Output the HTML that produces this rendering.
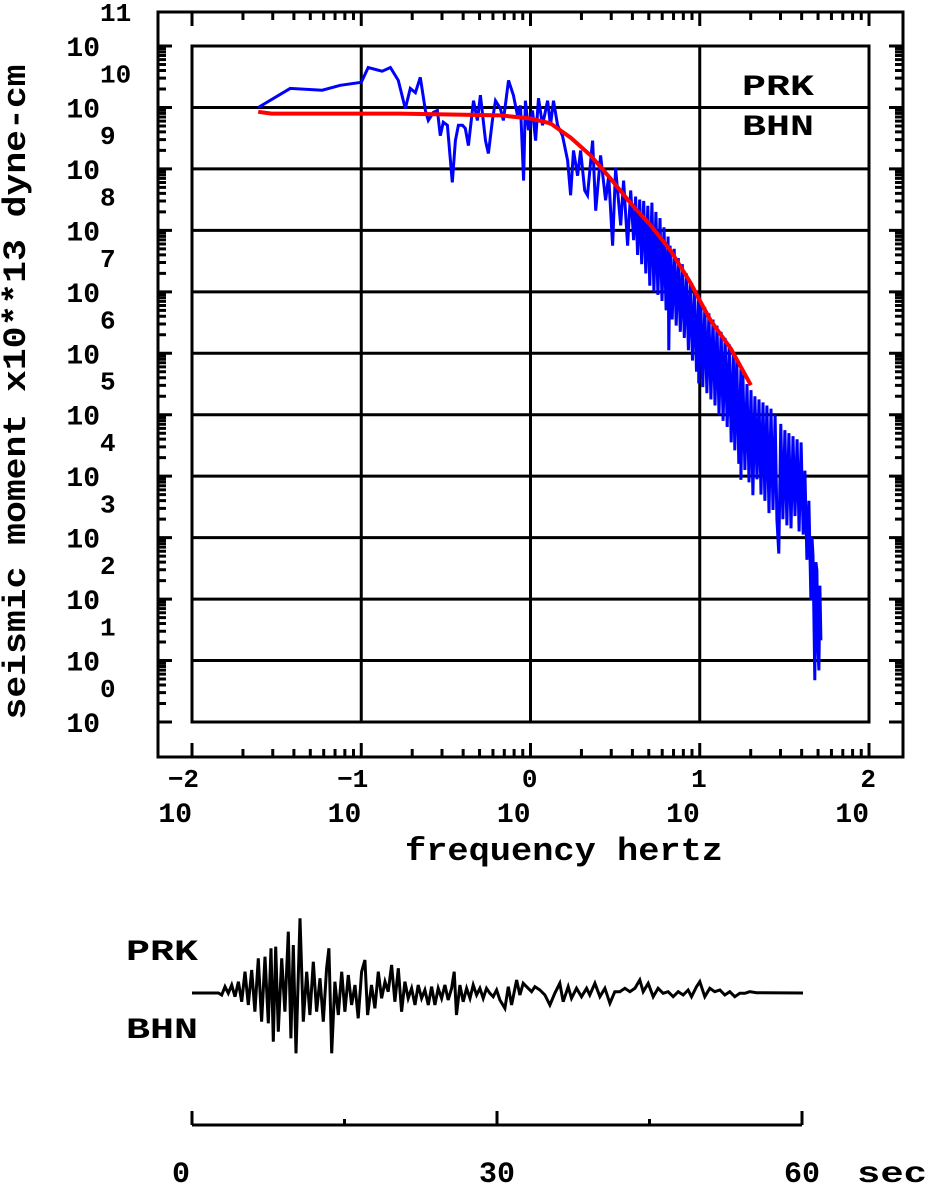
<!DOCTYPE html>
<html><head><meta charset="utf-8"><style>
html,body{margin:0;padding:0;background:#fff;}
svg{display:block;}
text{font-family:"Liberation Mono","DejaVu Sans Mono",monospace;font-weight:bold;fill:#000;}
</style></head><body>
<svg id="chart" width="928" height="1184" viewBox="0 0 928 1184" xmlns="http://www.w3.org/2000/svg">
<g id="frame"></g>
<g id="grid"></g>
<g id="ticks"></g>
<g id="ylabels"></g>
<g id="xlabels"></g>
<text transform="translate(25,392) rotate(-90)" text-anchor="middle" font-size="32" textLength="655" lengthAdjust="spacingAndGlyphs">seismic moment x10**13 dyne-cm</text>
<text x="405" y="860" font-size="32" textLength="318" lengthAdjust="spacingAndGlyphs">frequency  hertz</text>
<text x="742" y="95" font-size="30" textLength="72" lengthAdjust="spacingAndGlyphs">PRK</text>
<text x="742" y="135" font-size="30" textLength="72" lengthAdjust="spacingAndGlyphs">BHN</text>
<polyline id="blue" fill="none" stroke="#0000ff" stroke-width="3" stroke-linejoin="miter"/>
<polyline id="red" fill="none" stroke="#ff0000" stroke-width="4"/>
<text x="126" y="960" font-size="30" textLength="72" lengthAdjust="spacingAndGlyphs">PRK</text>
<text x="126" y="1038" font-size="30" textLength="72" lengthAdjust="spacingAndGlyphs">BHN</text>
<polyline id="wave" fill="none" stroke="#000" stroke-width="3"/>
<g id="taxis"></g>
</svg>
<script>
// ---- spectrum data (log10 frequency Hz, log10 moment) ----
const xDecades = [-2, -1, 0, 1, 2];
const yDecades = [0,1,2,3,4,5,6,7,8,9,10,11];
const blueFreqLog = [-1.609,-1.420,-1.231,-1.124,-1.0,-0.959,-0.876,-0.828,-0.781,-0.740,-0.710,-0.680,-0.651,-0.621,-0.604,-0.574,-0.550,-0.533,-0.515,-0.491,-0.462,-0.444,-0.426,-0.402,-0.385,-0.367,-0.337,-0.314,-0.296,-0.266,-0.249,-0.225,-0.207,-0.178,-0.160,-0.130,-0.101,-0.077,-0.059,-0.041,-0.030,-0.012,0.012,0.030,0.047,0.071,0.101,0.118,0.136,0.160,0.189,0.219,0.237,0.254,0.278,0.296,0.320,0.337,0.367,0.385,0.414,0.444,0.462,0.485,0.503,0.533,0.550,0.574,0.592,
0.609,0.621,0.633,0.645,0.657,0.669,0.681,0.693,0.705,0.717,0.729,0.741,0.753,0.765,0.777,0.789,0.801,0.813,0.817,0.825,0.837,0.849,0.861,0.873,0.885,0.897,0.909,0.921,0.933,0.945,0.957,0.969,0.981,0.994,0.994,1.006,1.018,1.030,1.042,1.054,1.066,1.078,1.090,1.102,1.114,1.126,1.138,1.150,1.162,1.174,1.186,1.198,1.207,1.219,1.231,1.243,1.243,1.255,1.267,1.279,1.291,1.303,1.314,1.326,1.338,1.350,1.362,1.374,1.385,1.397,1.409,1.421,1.433,1.445,1.456,1.467,1.479,1.491,1.503,1.515,1.527,1.539,1.551,1.563,1.575,1.587,1.599,1.611,1.621,1.633,1.645,1.657,1.663,1.669,1.675,1.680,1.686,1.692,1.698,1.704,1.710,1.716];
const blueMomLog = [10.00,10.31,10.28,10.36,10.41,10.65,10.59,10.65,10.44,9.98,10.31,10.24,10.49,9.95,9.79,9.92,9.95,9.54,9.76,9.71,8.78,9.46,9.71,9.71,9.66,9.38,10.11,9.79,10.20,9.46,9.25,9.79,10.11,9.98,9.79,10.44,10.20,9.87,10.03,8.81,10.11,9.63,9.95,9.46,10.15,9.71,10.11,9.71,10.11,9.71,9.54,9.14,8.57,9.30,8.89,9.30,8.65,8.57,9.46,8.32,9.22,8.49,8.89,7.75,9.01,8.08,8.81,7.75,8.65,
7.84,8.55,7.60,8.50,7.45,8.48,7.30,8.40,7.10,8.45,7.00,8.30,6.95,8.20,6.85,8.05,6.70,7.90,6.05,7.75,6.55,7.70,6.45,7.55,6.35,7.45,6.25,7.30,6.05,7.15,5.88,7.05,5.70,6.95,5.51,6.85,5.45,6.75,5.35,6.65,5.25,6.55,5.15,6.45,5.00,6.35,4.90,6.25,4.80,6.15,4.55,6.00,4.42,5.90,4.20,5.75,3.94,5.65,4.10,5.50,3.90,5.40,3.69,5.30,3.95,5.25,3.70,5.20,3.60,5.15,3.40,5.10,3.45,5.00,3.30,2.74,4.85,3.30,4.75,3.20,4.70,3.15,4.65,3.35,4.60,3.10,4.55,3.05,4.09,2.64,3.60,1.98,3.00,2.71,1.60,0.68,2.60,2.47,1.20,0.84,2.22,1.33];
const redFreqLog = [-1.609,-1.53,-0.769,-0.178,0.0,0.118,0.237,0.355,0.473,0.592,0.710,0.828,0.947,1.0,1.065,1.183,1.302];
const redMomLog  = [9.93,9.90,9.90,9.87,9.82,9.74,9.51,9.22,8.84,8.44,8.08,7.67,7.14,6.86,6.53,6.08,5.48];
// ---- seismogram data (seconds, relative amplitude) ----
const timeTicksMajor = [0, 30, 60];
const timeTicksMinor = [15, 45];
const waveTime = [0,2.6,2.92,3.25,3.57,3.90,4.23,4.56,4.89,5.21,5.54,5.87,6.19,6.52,6.85,7.18,7.50,7.77,8.00,8.23,8.49,8.82,9.14,9.47,9.73,9.96,10.23,10.62,10.95,11.28,11.60,11.93,12.26,12.59,12.91,13.24,13.47,13.74,14.06,14.39,14.72,15.04,15.37,15.70,16.03,16.35,16.68,17.01,17.27,17.66,17.99,18.32,18.65,18.98,19.30,19.63,19.96,20.29,20.62,20.94,21.27,21.60,21.93,22.25,22.58,22.91,23.24,23.57,23.89,24.22,24.55,24.88,25.20,25.53,25.79,26.02,26.35,26.68,27.01,27.34,27.66,27.99,28.32,28.64,28.97,29.30,29.63,29.96,30.29,30.78,31.11,31.44,31.93,32.25,32.58,33.07,33.40,33.73,34.22,34.71,35.20,35.69,36.18,36.51,37.00,37.33,37.82,38.31,38.81,39.13,39.63,40.12,40.61,41.10,41.59,42.08,42.58,43.07,43.56,44.05,44.38,44.87,45.36,45.85,46.34,46.83,47.33,47.82,48.31,48.80,49.13,49.62,49.95,50.44,50.93,51.42,51.92,52.41,52.90,53.39,53.88,54.38,54.87,55.52,60.10];
const waveAmp = [0,0,-2,6.3,-0.3,8,-3.7,11.3,-8.7,21.3,-12,23,-18.7,34.7,-28.7,36.3,-30.3,44.7,-48.7,46.3,-38.7,34.7,-18.7,61.3,-45.3,48,-60.3,74.7,-28.7,21.3,-22,31.3,-18.7,14.7,-28.7,24.7,44.7,-60.3,11.3,-22,21.3,-18.7,18,-12,8,-25.3,21.3,33,-22,8,-15.3,21.3,-5.3,11.3,1.3,28,-8.7,24.7,-18.7,11.3,-5.3,4.7,-12,8,-5.3,3,-12,6.3,-12,4.7,-5.3,8,-7,4.7,21.3,-22,8,-8.7,4.7,-5.3,8,-2,4.7,-5.3,4.7,-0.3,-3.7,3,-7,-15.3,6.3,-12,13,-2,9.7,4.7,1.3,6.3,3,-2,-12,-0.3,9.7,-8.7,6.3,-5.3,4.7,-3.7,4.7,-2,9.7,-3.7,4.7,-10.3,1.3,1.3,4.7,1.3,4.7,13,1.3,9.7,-3.7,4.7,-0.3,1.3,-3.7,1.3,-2,3,-3.7,6.3,11.3,-3.7,4.7,1.3,3,-2,1.3,-3.7,-0.3,-0.3,1.3,0.3,0];

const NS='http://www.w3.org/2000/svg';
const PX0=192, PX1=869, PY0=46, PY1=722;
const xs = lf => PX0 + (lf + 2) * (PX1 - PX0) / 4;
const ys = lm => PY1 - lm * (PY1 - PY0) / 11;
const ts = t => 192 + t * (802 - 192) / 60;
const as = a => 993 - a;
function mk(tag, attrs, parent){const e=document.createElementNS(NS,tag);for(const k in attrs)e.setAttribute(k,attrs[k]);parent.appendChild(e);return e;}
const frame=document.getElementById('frame'), grid=document.getElementById('grid'), ticks=document.getElementById('ticks');
let r=mk('rect',{x:158,y:12,width:745,height:745,fill:'none',stroke:'#000','stroke-width':3},frame);


r=mk('rect',{x:PX0,y:PY0,width:PX1-PX0,height:PY1-PY0,fill:'none',stroke:'#000','stroke-width':3},frame);


xDecades.forEach(d=>{
  const x=xs(d);
  const l=mk('line',{x1:x,x2:x,y1:PY0,y2:PY1,stroke:'#000','stroke-width':3},grid);
  
  
});
yDecades.forEach(d=>{
  const y=ys(d);
  const l=mk('line',{x1:PX0,x2:PX1,y1:y,y2:y,stroke:'#000','stroke-width':3},grid);
  
  
});
let tp='';
for(let d=-2; d<=2; d++){
  for(let m=1;m<=9;m++){
    if(d===2 && m>1) break;
    const x=xs(d+Math.log10(m)); const L = m===1?14:8;
    tp+=`M${x} 12V${12+L}M${x} 757V${757-L}`;
  }
}
for(let d=0; d<=11; d++){
  for(let m=1;m<=9;m++){
    if(d===11 && m>1) break;
    const y=ys(d+Math.log10(m)); const L = m===1?14:8;
    tp+=`M158 ${y}H${158+L}M903 ${y}H${903-L}`;
  }
}
const tk=mk('path',{d:tp,stroke:'#000','stroke-width':3,fill:'none'},ticks);


const yl=document.getElementById('ylabels');
yDecades.forEach(d=>{
  const y=ys(d);
  const b=mk('text',{x:100,y:y+10,'font-size':28,'text-anchor':'end'},yl); b.textContent='10';
  
  
  const e=mk('text',{x:100,y:y-25,'font-size':26},yl); e.textContent=String(d);
  
  
});
const xl=document.getElementById('xlabels');
xDecades.forEach(d=>{
  const x=xs(d);
  const e=mk('text',{x:x+7,y:787,'font-size':26,'text-anchor':'end'},xl); e.textContent=String(d).replace('-','\u2212');
  
  
  const b=mk('text',{x:x,y:822,'font-size':28,'text-anchor':'end'},xl); b.textContent='10';
  
  
});
document.getElementById('blue').setAttribute('points', blueFreqLog.map((f,i)=>xs(f).toFixed(1)+','+ys(blueMomLog[i]).toFixed(1)).join(' '));
document.getElementById('red').setAttribute('points', redFreqLog.map((f,i)=>xs(f).toFixed(1)+','+ys(redMomLog[i]).toFixed(1)).join(' '));
document.getElementById('wave').setAttribute('points', waveTime.map((t,i)=>ts(t).toFixed(1)+','+as(waveAmp[i]).toFixed(1)).join(' '));
const ta=document.getElementById('taxis');
let p=`M${ts(0)} 1125H${ts(60)}`;
timeTicksMajor.forEach(t=>{p+=`M${ts(t)} 1125V1111`;});
timeTicksMinor.forEach(t=>{p+=`M${ts(t)} 1125V1119`;});
const tl=mk('path',{d:p,stroke:'#000','stroke-width':3,fill:'none'},ta);


timeTicksMajor.forEach(t=>{
  const tx=mk('text',{x:ts(t)-(t===0?11:0),y:1182,'font-size':30,'text-anchor':'middle'},ta); tx.textContent=String(t);
  
  
});
const sec=mk('text',{x:857,y:1182,'font-size':30,textLength:70,lengthAdjust:'spacingAndGlyphs'},ta); sec.textContent='sec';


</script>
</body></html>
